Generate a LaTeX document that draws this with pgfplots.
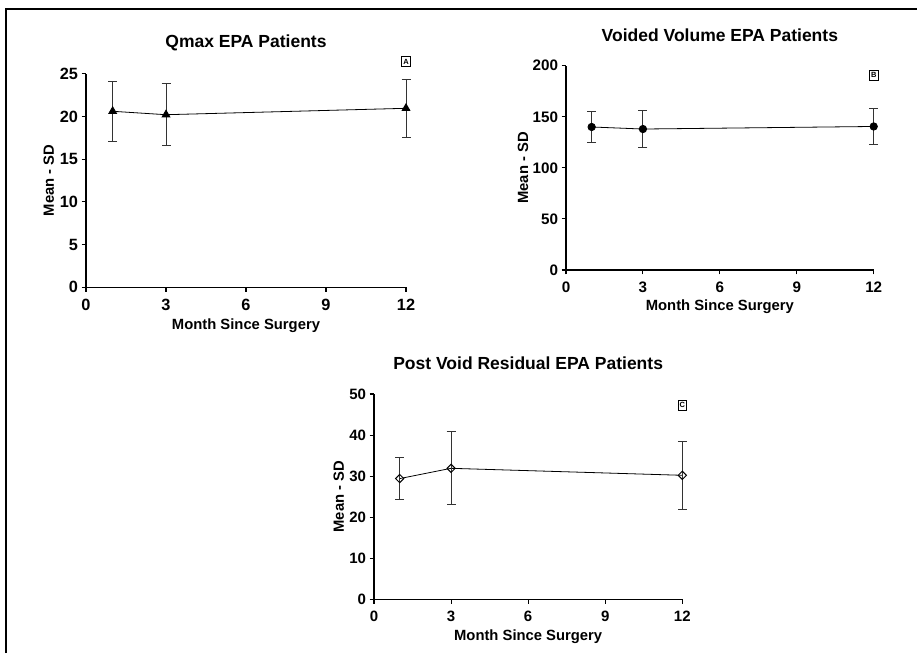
\documentclass[border=0pt]{standalone}
\usepackage{fontspec}
\setmainfont{Liberation Sans}
\usepackage{pgfplots}
\pgfplotsset{compat=1.18}

\pgfplotsset{
  every axis title shift=0pt,
  epa/.style={
    scale only axis, anchor=south west,
    axis lines=left, axis line style={-, line width=1.2pt},
    tick align=outside, major tick length=4.5pt,
    tick style={line width=1.1pt, black},
    xmin=0, xmax=12, xtick={0,3,6,9,12}, ymin=0,
    xticklabel style={yshift=-3.5pt},
    /pgf/number format/assume math mode=true,
    label style={font=\fontsize{14.8}{14.8}\selectfont\bfseries},
    title style={font=\fontsize{17.5}{17.5}\selectfont\bfseries, anchor=center},
    xlabel={Month Since Surgery}, ylabel={Mean - SD},
    ylabel style={anchor=center},
    xlabel style={anchor=center},
    clip=false,
  },
  sdbars/.style={
    black, line width=0.8pt,
    error bars/y dir=both, error bars/y explicit,
    error bars/error bar style={line width=1pt, black!80},
    error bars/error mark options={rotate=90, mark size=4.5pt, line width=1pt, black!80},
  },
}
\tikzset{tag/.style={draw, line width=0.7pt, inner xsep=1.6pt, inner ysep=2.4pt, font=\fontsize{7.5}{7.5}\selectfont\bfseries}}

\begin{document}
\begin{tikzpicture}
\path[use as bounding box] (0pt,0pt) rectangle (917pt,653pt);
\draw[line width=1.5pt] (6pt,0pt) -- (6pt,644pt) -- (917pt,644pt);

% A
\begin{axis}[epa, at={(86pt,365.7pt)}, width=320pt, height=213.6pt,
  ymax=25, ytick={0,5,...,25},
  tick label style={font=\fontsize{16.3}{16.3}\selectfont\bfseries},
  title={Qmax EPA Patients},
  title style={at={(axis description cs:0.5,1.145)}},
  xlabel style={at={(axis description cs:0.5,-0.178)}},
  ylabel style={at={(axis description cs:-0.116,0.5)}},
]
\addplot[sdbars, mark=triangle*, mark size=4.5pt, mark options={solid, fill=black}]
  coordinates {(1,20.6) +- (0,3.5) (3,20.2) +- (0,3.65) (12,20.95) +- (0,3.4)};
\node[tag] at (axis cs:12,26.4) {A};
\end{axis}

% B
\begin{axis}[epa, at={(566pt,383pt)}, width=307.7pt, height=204.3pt,
  ymax=200, ytick={0,50,...,200},
  tick label style={font=\fontsize{15.2}{15.2}\selectfont\bfseries},
  title={Voided Volume EPA Patients},
  title style={at={(axis description cs:0.5,1.150)}},
  xlabel style={at={(axis description cs:0.5,-0.181)}},
  ylabel style={at={(axis description cs:-0.140,0.5)}},
]
\addplot[sdbars, mark=*, mark size=3.7pt, mark options={solid, fill=black}]
  coordinates {(1,140) +- (0,15.5) (3,138) +- (0,18.3) (12,140.5) +- (0,17.3)};
\node[tag] at (axis cs:12,190.9) {B};
\end{axis}

% C
\begin{axis}[epa, at={(374pt,53.7pt)}, width=308.3pt, height=205.3pt,
  ymax=50, ytick={0,10,...,50},
  tick label style={font=\fontsize{15}{15}\selectfont\bfseries},
  title={Post Void Residual EPA Patients},
  title style={at={(axis description cs:0.5,1.152)}},
  xlabel style={at={(axis description cs:0.5,-0.182)}},
  ylabel style={at={(axis description cs:-0.114,0.5)}},
]
\addplot[sdbars, mark=square, mark size=2.9pt, mark options={solid, rotate=45, fill=white, line width=1pt}]
  coordinates {(1,29.4) +- (0,5.1) (3,31.9) +- (0,8.85) (12,30.2) +- (0,8.3)};
\node[tag] at (axis cs:12,47.3) {C};
\end{axis}
\end{tikzpicture}
\end{document}
